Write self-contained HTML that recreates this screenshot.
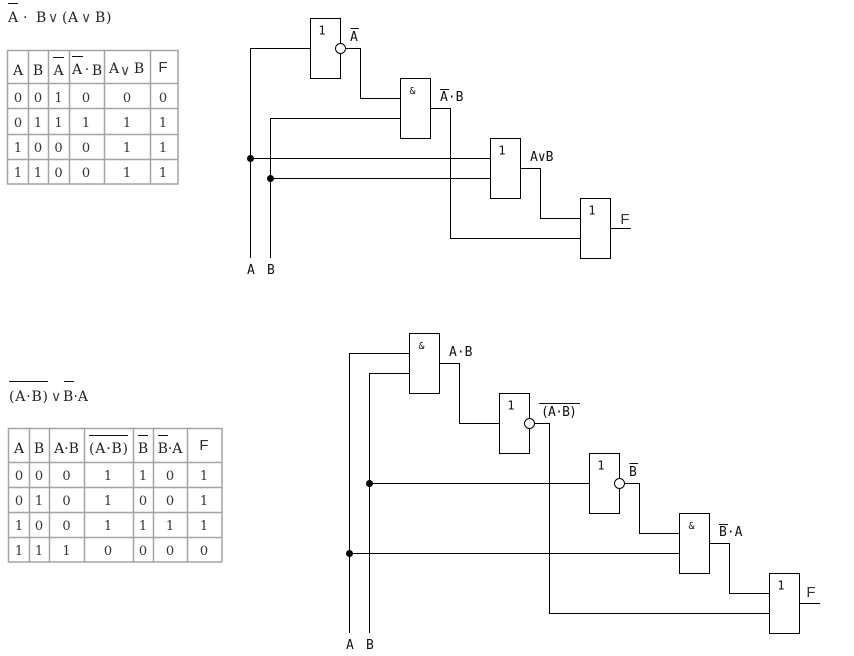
<!DOCTYPE html>
<html><head><meta charset="utf-8"><style>
html,body{margin:0;padding:0;background:#fff}
svg{display:block}
.w{fill:none;stroke:#000;stroke-width:1;shape-rendering:crispEdges}
.g{fill:#fff;stroke:#000;stroke-width:1;shape-rendering:crispEdges}
.b{fill:#fff;stroke:#000;stroke-width:1}
.t{stroke:#a4a4a4;stroke-width:1.5;fill:none}
.o{stroke:#111;stroke-width:1;fill:none;shape-rendering:crispEdges}
.s{font:14px "DejaVu Serif","Liberation Serif",serif;fill:#222}
.v{font:14px "DejaVu Sans","Liberation Sans",sans-serif;fill:#444}
.d{font:13px "DejaVu Serif","Liberation Serif",serif;fill:#333;text-anchor:middle}
.h{font:14px "DejaVu Serif","Liberation Serif",serif;fill:#222;text-anchor:middle}
.f{font:15px "Liberation Sans",sans-serif;fill:#333;text-anchor:middle}
.l{font:13px "DejaVu Sans Mono","Liberation Mono",monospace;fill:#111}
.n{font:12px "DejaVu Sans Mono","Liberation Mono",monospace;fill:#111;text-anchor:middle}
.a{font:10px "DejaVu Sans Mono","Liberation Mono",monospace;fill:#111;text-anchor:middle}
</style></head><body>
<svg width="854" height="656" viewBox="0 0 854 656" xmlns="http://www.w3.org/2000/svg">
<!-- formula 1 -->
<path class="o" d="M8 3.500H18"/>
<text class="s" x="8" y="22">A</text><text class="s" x="23" y="22">·</text><text class="s" x="36" y="22">B</text>
<text class="v" x="48" y="22">∨</text><text class="s" x="62" y="22">(</text><text class="s" x="68" y="22">A</text><text class="v" x="81" y="22">∨</text><text class="s" x="95" y="22">B</text><text class="s" x="106" y="22">)</text>
<!-- table 1 -->
<path class="t" d="M7.500 50V184.500M28.500 50V184.500M48.500 50V184.500M69.500 50V184.500M104.500 50V184.500M150.500 50V184.500M178 50V184.500"/>
<path class="t" d="M7 50.500H178.500M7 83.500H178.500M7 108.500H178.500M7 134.500H178.500M7 159.500H178.500M7 184H178.500"/>
<g class="h">
<text x="18" y="75">A</text><text x="38" y="75">B</text><text x="58.500" y="75">A</text>
<text x="77" y="74">A</text><text x="87" y="74">·</text><text x="97" y="75">B</text>
<text x="114" y="73">A</text><text x="139" y="73">B</text></g>
<text class="v" x="120" y="75">∨</text>
<text class="f" x="163" y="72">F</text>
<path class="o" d="M53 57.500H64M72 56.500H83"/>
<g class="d">
<text x="18" y="102">0</text><text x="38" y="102">0</text><text x="58.500" y="102">1</text><text x="86" y="102">0</text><text x="127" y="102">0</text><text x="163" y="102">0</text>
<text x="18" y="127">0</text><text x="38" y="127">1</text><text x="58.500" y="127">1</text><text x="86" y="127">1</text><text x="127" y="127">1</text><text x="163" y="127">1</text>
<text x="18" y="152">1</text><text x="38" y="152">0</text><text x="58.500" y="152">0</text><text x="86" y="152">0</text><text x="127" y="152">1</text><text x="163" y="152">1</text>
<text x="18" y="177">1</text><text x="38" y="177">1</text><text x="58.500" y="177">0</text><text x="86" y="177">0</text><text x="127" y="177">1</text><text x="163" y="177">1</text>
</g>
<!-- circuit 1 -->
<path class="w" d="M310.500 48.500H250.500V258M345.500 48.500H360.500V98.500H400.500M270.500 258V118.500H400.500M250.500 158.500H490.500M270.500 178.500H490.500M430.500 108.500H450.500V238.500H580.500M520.500 168.500H540.500V218.500H580.500M610.500 228.500H631"/>
<rect class="g" x="310.500" y="18.500" width="30" height="60"/>
<rect class="g" x="400.500" y="78.500" width="30" height="60"/>
<rect class="g" x="490.500" y="138.500" width="30" height="60"/>
<rect class="g" x="580.500" y="198.500" width="30" height="60"/>
<circle class="b" cx="340.500" cy="48.500" r="5"/>
<circle cx="250.500" cy="158.500" r="3.500"/><circle cx="270.500" cy="178.500" r="3.500"/>
<text class="n" x="322" y="34.500">1</text><text class="a" x="412.500" y="94">&amp;</text><text class="n" x="502" y="154.500">1</text><text class="n" x="592" y="214.500">1</text>
<path class="o" d="M350.500 28.500H359M440 89.500H449"/>
<text class="l" x="350" y="41">A</text>
<text class="l" x="440" y="101">A·B</text>
<text class="l" x="530" y="161">A∨B</text>
<text class="f" x="625" y="224">F</text>
<text class="l" x="247" y="274">A</text><text class="l" x="267" y="274">B</text>
<!-- formula 2 -->
<path class="o" d="M9 381.500H48M64 381.500H74"/>
<text class="s" x="9" y="401" textLength="39">(A·B)</text><text class="v" x="51" y="401">∨</text><text class="s" x="63" y="401" textLength="25">B·A</text>
<!-- table 2 -->
<path class="t" d="M8.500 428V562.500M29.500 428V562.500M49.500 428V562.500M84.500 428V562.500M133.500 428V562.500M153.500 428V562.500M187.500 428V562.500M222 428V562.500"/>
<path class="t" d="M8 428.500H222.500M8 462.500H222.500M8 487.500H222.500M8 512.500H222.500M8 537.500H222.500M8 562H222.500"/>
<g class="h">
<text x="19" y="453">A</text><text x="39" y="453">B</text><text x="66.500" y="453">A·B</text><text x="108.500" y="453" textLength="39">(A·B)</text><text x="143" y="453">B</text><text x="170" y="453">B·A</text></g>
<text class="f" x="204" y="450">F</text>
<path class="o" d="M89 435.500H128M138 435.500H148M158 435.500H168"/>
<g class="d">
<text x="19" y="480">0</text><text x="39" y="480">0</text><text x="66.500" y="480">0</text><text x="108" y="480">1</text><text x="143" y="480">1</text><text x="170" y="480">0</text><text x="204" y="480">1</text>
<text x="19" y="505">0</text><text x="39" y="505">1</text><text x="66.500" y="505">0</text><text x="108" y="505">1</text><text x="143" y="505">0</text><text x="170" y="505">0</text><text x="204" y="505">1</text>
<text x="19" y="530">1</text><text x="39" y="530">0</text><text x="66.500" y="530">0</text><text x="108" y="530">1</text><text x="143" y="530">1</text><text x="170" y="530">1</text><text x="204" y="530">1</text>
<text x="19" y="555">1</text><text x="39" y="555">1</text><text x="66.500" y="555">1</text><text x="108" y="555">0</text><text x="143" y="555">0</text><text x="170" y="555">0</text><text x="204" y="555">0</text>
</g>
<!-- circuit 2 -->
<path class="w" d="M409.500 353.500H349.500V633M409.500 373.500H369.500V633M439.500 363.500H459.500V423.500H499.500M534.500 423.500H549.500V613.500H769.500M369.500 483.500H589.500M349.500 553.500H679.500M624.500 483.500H639.500V533.500H679.500M709.500 543.500H729.500V593.500H769.500M799.500 603.500H820"/>
<rect class="g" x="409.500" y="333.500" width="30" height="60"/>
<rect class="g" x="499.500" y="393.500" width="30" height="60"/>
<rect class="g" x="589.500" y="453.500" width="30" height="60"/>
<rect class="g" x="679.500" y="513.500" width="30" height="60"/>
<rect class="g" x="769.500" y="573.500" width="30" height="60"/>
<circle class="b" cx="529.500" cy="423.500" r="5"/><circle class="b" cx="619.500" cy="483.500" r="5"/>
<circle cx="369.500" cy="483.500" r="3.500"/><circle cx="349.500" cy="553.500" r="3.500"/>
<text class="a" x="421.500" y="349">&amp;</text><text class="n" x="511" y="409.500">1</text><text class="n" x="601" y="469.500">1</text><text class="a" x="691.500" y="529">&amp;</text><text class="n" x="781" y="589.500">1</text>
<path class="o" d="M539 403.500H580M629.500 463.500H638M719 524.500H728"/>
<text class="l" x="449" y="356">A·B</text>
<text class="l" x="541" y="416" textLength="36">(A·B)</text>
<text class="l" x="629" y="476">B</text>
<text class="l" x="719" y="536">B·A</text>
<text class="f" x="811" y="597">F</text>
<text class="l" x="346" y="649">A</text><text class="l" x="366" y="649">B</text>
</svg>
</body></html>
